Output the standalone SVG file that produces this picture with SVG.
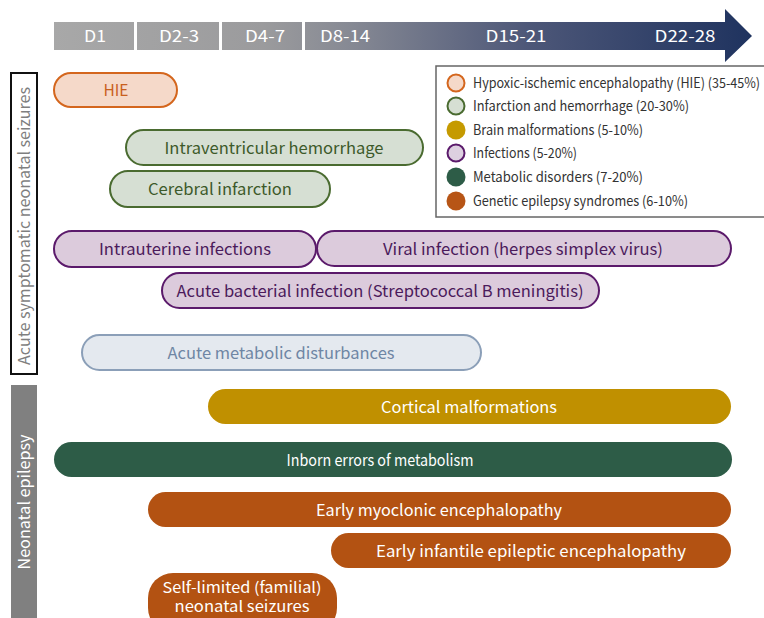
<svg xmlns="http://www.w3.org/2000/svg" width="764" height="618" viewBox="0 0 764 618">
<defs>
<linearGradient id="tl" gradientUnits="userSpaceOnUse" x1="54" y1="0" x2="752" y2="0">
<stop offset="0" stop-color="#a8a8a8"/>
<stop offset="0.3" stop-color="#9b9b9d"/>
<stop offset="0.42" stop-color="#878a94"/>
<stop offset="0.68" stop-color="#4d5778"/>
<stop offset="1" stop-color="#1f335f"/>
</linearGradient>
</defs>
<style>
text{font-family:"Noto Sans CJK KR","Noto Sans",sans-serif;}
.tl{fill:#fff;font-size:16px;text-anchor:middle;}
.pl{font-size:16px;text-anchor:middle;}
.lg{font-size:14px;fill:#333;}
.w{fill:#fff;}
</style>
<rect width="764" height="618" fill="#fff"/>
<g id="timeline">
<path d="M54 22 H725 V9 L752 36 L725 62 V50 H54 Z" fill="url(#tl)"/>
<rect x="134" y="22" width="3" height="28" fill="#fff"/>
<rect x="219" y="22" width="3" height="28" fill="#fff"/>
<rect x="302" y="22" width="3" height="28" fill="#fff"/>
<text class="tl" x="95" y="42" textLength="22" lengthAdjust="spacingAndGlyphs">D1</text>
<text class="tl" x="179" y="42" textLength="40" lengthAdjust="spacingAndGlyphs">D2-3</text>
<text class="tl" x="265" y="42" textLength="40" lengthAdjust="spacingAndGlyphs">D4-7</text>
<text class="tl" x="345" y="42" textLength="50" lengthAdjust="spacingAndGlyphs">D8-14</text>
<text class="tl" x="516" y="42" textLength="61" lengthAdjust="spacingAndGlyphs">D15-21</text>
<text class="tl" x="685" y="42" textLength="61" lengthAdjust="spacingAndGlyphs">D22-28</text>
</g>
<g id="label-acute">
<rect x="11" y="73" width="26" height="301" fill="#fff" stroke="#111" stroke-width="2"/>
<text transform="translate(30 226) rotate(-90)" text-anchor="middle" font-size="16" fill="#7f7f7f" textLength="278" lengthAdjust="spacingAndGlyphs">Acute symptomatic neonatal seizures</text>
</g>
<g id="label-epilepsy">
<rect x="11" y="385" width="26" height="233" fill="#808080"/>
<text transform="translate(30 502) rotate(-90)" text-anchor="middle" font-size="16" fill="#fff" textLength="135" lengthAdjust="spacingAndGlyphs">Neonatal epilepsy</text>
</g>
<g id="legend">
<rect x="436" y="66" width="330" height="151" fill="#fff" stroke="#666" stroke-width="1.5"/>
<circle cx="456" cy="83" r="8.5" fill="#f5d9c9" stroke="#d4661d" stroke-width="2"/>
<circle cx="456" cy="106" r="8.5" fill="#d6dfd3" stroke="#4a6b30" stroke-width="2"/>
<circle cx="456" cy="130" r="9.5" fill="#c59a00"/>
<circle cx="456" cy="153" r="8.5" fill="#ddd0e0" stroke="#5b1a6b" stroke-width="2"/>
<circle cx="456" cy="177" r="9.5" fill="#2d5c47"/>
<circle cx="456" cy="201" r="9.5" fill="#b75516"/>
<text class="lg" x="473" y="88" textLength="287" lengthAdjust="spacingAndGlyphs">Hypoxic-ischemic encephalopathy (HIE) (35-45%)</text>
<text class="lg" x="473" y="111" textLength="216" lengthAdjust="spacingAndGlyphs">Infarction and hemorrhage (20-30%)</text>
<text class="lg" x="473" y="135" textLength="170" lengthAdjust="spacingAndGlyphs">Brain malformations (5-10%)</text>
<text class="lg" x="473" y="158" textLength="104" lengthAdjust="spacingAndGlyphs">Infections (5-20%)</text>
<text class="lg" x="473" y="182" textLength="170" lengthAdjust="spacingAndGlyphs">Metabolic disorders (7-20%)</text>
<text class="lg" x="473" y="206" textLength="215" lengthAdjust="spacingAndGlyphs">Genetic epilepsy syndromes (6-10%)</text>
</g>
<g id="hie">
<rect x="54" y="73" width="123" height="34" rx="17" fill="#f5d9c9" stroke="#d4661d" stroke-width="2"/>
<text class="pl" x="116" y="96" fill="#c8601e" textLength="25" lengthAdjust="spacingAndGlyphs">HIE</text>
</g>
<g id="ivh">
<rect x="126" y="130" width="297" height="35" rx="17.5" fill="#d6dfd3" stroke="#4a6b30" stroke-width="2"/>
<text class="pl" x="274" y="154" fill="#3d5a2a" textLength="219" lengthAdjust="spacingAndGlyphs">Intraventricular hemorrhage</text>
</g>
<g id="infarction">
<rect x="110" y="171" width="220" height="36" rx="18" fill="#d6dfd3" stroke="#4a6b30" stroke-width="2"/>
<text class="pl" x="220" y="195" fill="#3d5a2a" textLength="144" lengthAdjust="spacingAndGlyphs">Cerebral infarction</text>
</g>
<g id="intrauterine">
<rect x="54" y="231" width="262" height="36" rx="18" fill="#dccbdc" stroke="#5b1a6b" stroke-width="2"/>
<text class="pl" x="185" y="255" fill="#4b1a5b" textLength="172" lengthAdjust="spacingAndGlyphs">Intrauterine infections</text>
</g>
<g id="viral">
<rect x="317" y="231" width="414" height="35" rx="17.5" fill="#dccbdc" stroke="#5b1a6b" stroke-width="2"/>
<text class="pl" x="523" y="255" fill="#4b1a5b" textLength="280" lengthAdjust="spacingAndGlyphs">Viral infection (herpes simplex virus)</text>
</g>
<g id="bacterial">
<rect x="162" y="273" width="437" height="35" rx="17.5" fill="#dccbdc" stroke="#5b1a6b" stroke-width="2"/>
<text class="pl" x="380" y="297" fill="#4b1a5b" textLength="407" lengthAdjust="spacingAndGlyphs">Acute bacterial infection (Streptococcal B meningitis)</text>
</g>
<g id="metabolic">
<rect x="82" y="335" width="399" height="35" rx="17.5" fill="#e4e9ef" stroke="#8b9fb8" stroke-width="2"/>
<text class="pl" x="281" y="359" fill="#6f86a4" textLength="227" lengthAdjust="spacingAndGlyphs">Acute metabolic disturbances</text>
</g>
<g id="cortical">
<rect x="208" y="389" width="523" height="35" rx="17.5" fill="#c09000"/>
<text class="pl w" x="469" y="413" textLength="176" lengthAdjust="spacingAndGlyphs">Cortical malformations</text>
</g>
<g id="inborn">
<rect x="54" y="442" width="678" height="35" rx="17.5" fill="#2d5c47"/>
<text class="pl w" x="380" y="466" textLength="187" lengthAdjust="spacingAndGlyphs">Inborn errors of metabolism</text>
</g>
<g id="emo">
<rect x="148" y="492" width="583" height="35" rx="17.5" fill="#b35212"/>
<text class="pl w" x="439" y="516" textLength="246" lengthAdjust="spacingAndGlyphs">Early myoclonic encephalopathy</text>
</g>
<g id="eiee">
<rect x="331" y="533" width="400" height="35" rx="17.5" fill="#b35212"/>
<text class="pl w" x="531" y="557" textLength="310" lengthAdjust="spacingAndGlyphs">Early infantile epileptic encephalopathy</text>
</g>
<g id="self-limited">
<rect x="148" y="573" width="189" height="60" rx="25" fill="#b35212"/>
<text class="w" x="242" y="593" font-size="15" text-anchor="middle" textLength="159" lengthAdjust="spacingAndGlyphs">Self-limited (familial)</text>
<text class="w" x="242" y="612" font-size="15" text-anchor="middle" textLength="135" lengthAdjust="spacingAndGlyphs">neonatal seizures</text>
</g>
<g id="connectors"></g>
</svg>
